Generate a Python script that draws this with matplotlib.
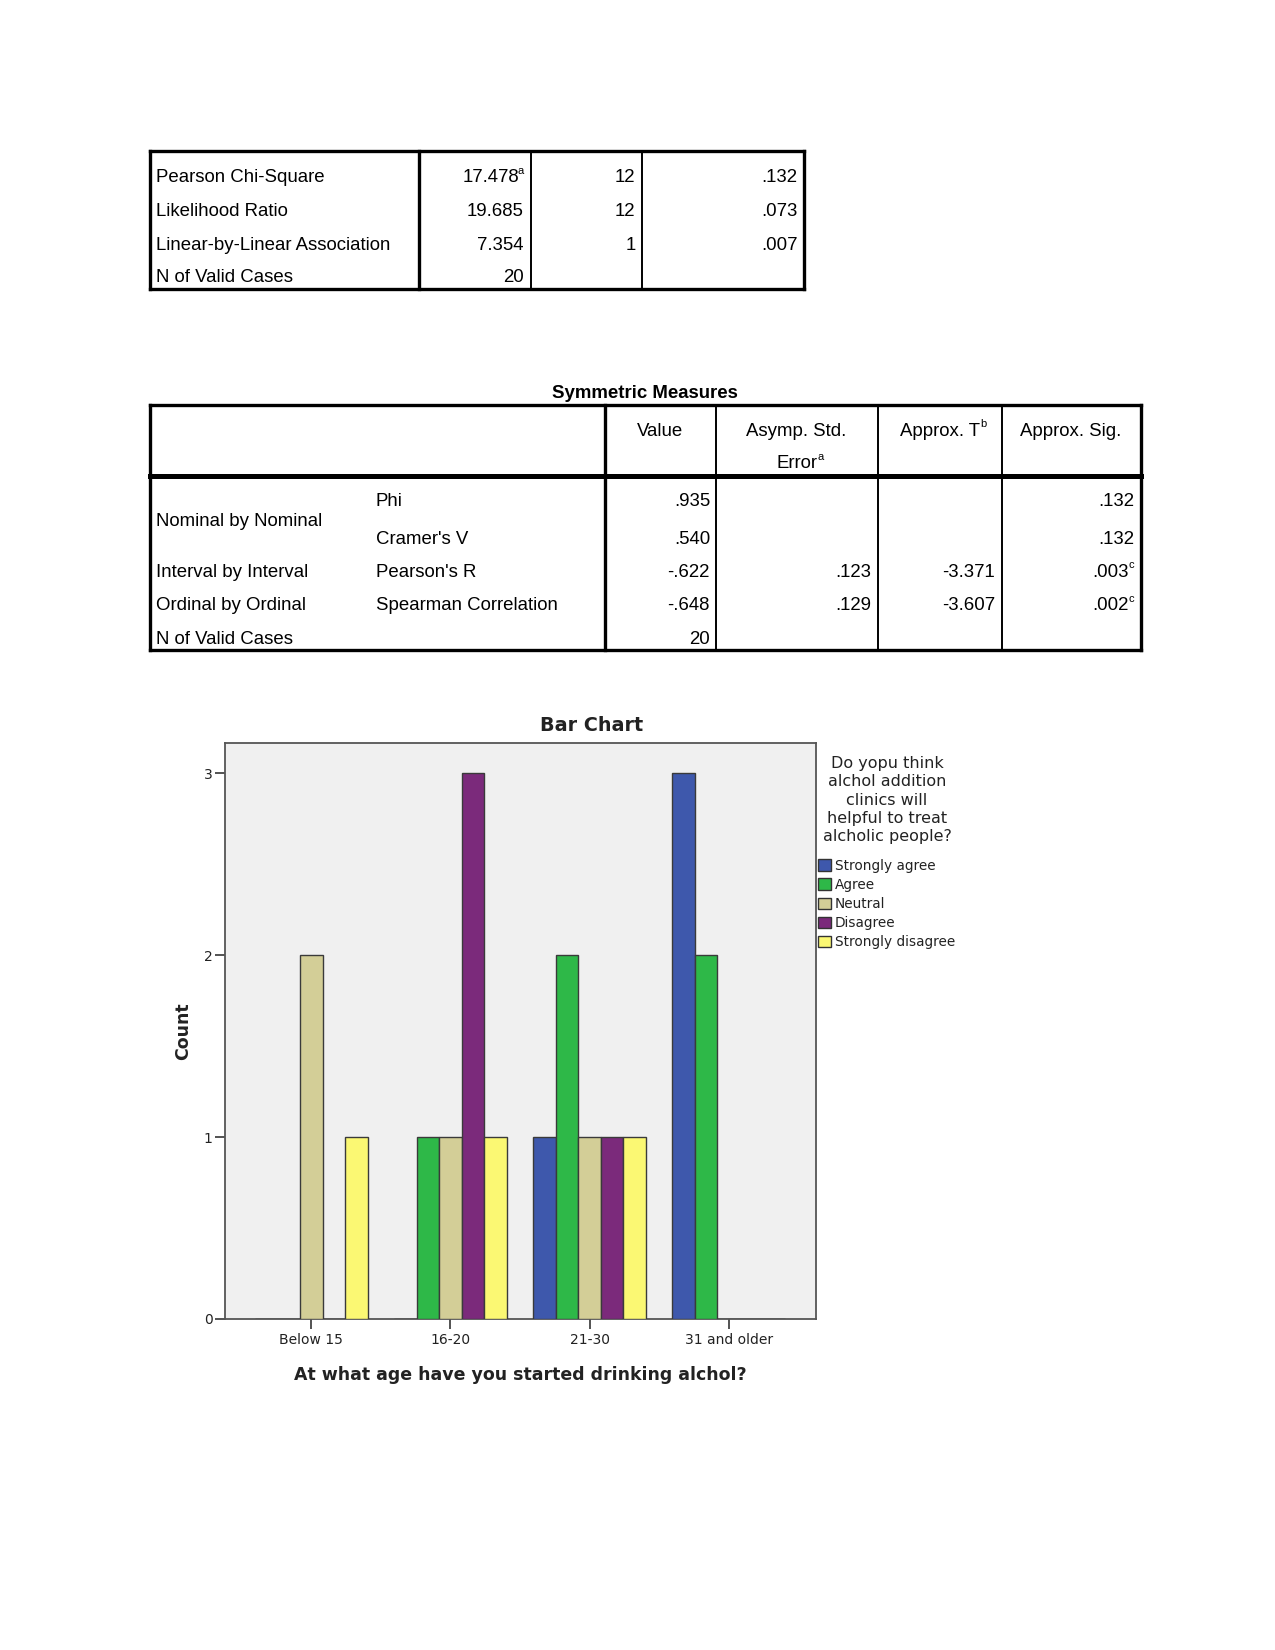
import numpy as np
import matplotlib
matplotlib.use("Agg")
import matplotlib.pyplot as plt
from matplotlib.patches import Patch

# ---------------- data ----------------
t1_rows = ["Pearson Chi-Square", "Likelihood Ratio", "Linear-by-Linear Association", "N of Valid Cases"]
t1_value = ["17.478", "19.685", "7.354", "20"]
t1_value_sup = ["a", "", "", ""]
t1_df = ["12", "12", "1", ""]
t1_sig = [".132", ".073", ".007", ""]

t2_title = "Symmetric Measures"
t2_headers = ["Value", "Asymp. Std.\nError", "Approx. T", "Approx. Sig."]
t2_header_sup = ["", "a", "b", ""]
t2_group = ["Nominal by Nominal", "", "Interval by Interval", "Ordinal by Ordinal", "N of Valid Cases"]
t2_measure = ["Phi", "Cramer's V", "Pearson's R", "Spearman Correlation", ""]
t2_value = [".935", ".540", "-.622", "-.648", "20"]
t2_ase = ["", "", ".123", ".129", ""]
t2_t = ["", "", "-3.371", "-3.607", ""]
t2_sig = [".132", ".132", ".003", ".002", ""]
t2_sig_sup = ["", "", "c", "c", ""]

categories = ["Below 15", "16-20", "21-30", "31 and older"]
series_names = ["Strongly agree", "Agree", "Neutral", "Disagree", "Strongly disagree"]
strongly_agree = [0, 0, 1, 3]
agree = [0, 1, 2, 2]
neutral = [2, 1, 1, 0]
disagree = [0, 3, 1, 0]
strongly_disagree = [1, 1, 1, 0]
series_values = [strongly_agree, agree, neutral, disagree, strongly_disagree]
series_colors = ["#3E58AC", "#2EB848", "#D3CE97", "#7B2A7B", "#FBF873"]
legend_title = "Do yopu think\nalchol addition\nclinics will\nhelpful to treat\nalcholic people?"

# ---------------- figure ----------------
fig = plt.figure(figsize=(12.75, 16.5), dpi=100)
ov = fig.add_axes([0, 0, 1, 1])
ov.set_xlim(0, 1275)
ov.set_ylim(1650, 0)
ov.axis("off")

TF = "Liberation Sans"
FS = 13.4
SUPFS = 8


def txt(x, y, s, ha="left", sup="", **kw):
    if sup:
        ov.text(x, y - 7, sup, ha="right" if ha == "right" else "left", va="center",
                fontsize=SUPFS, family=TF)
        if ha == "right":
            x = x - 5
    ov.text(x, y, s, ha=ha, va="center", fontsize=kw.pop("fontsize", FS), family=TF, **kw)


def line(x0, y0, x1, y1, lw):
    ov.plot([x0, x1], [y0, y1], color="black", lw=lw, solid_capstyle="projecting")


# Table 1
L, R, T, B = 149.5, 803.5, 151, 289
line(L, T, R, T, 2.4)
line(L, B, R, B, 2.4)
line(L, T, L, B, 2.4)
line(R, T, R, B, 2.4)
line(419, T, 419, B, 2.4)
line(531, T, 531, B, 1.4)
line(642, T, 642, B, 1.4)
ys1 = [178, 211.5, 245, 278]
for i, y in enumerate(ys1):
    txt(156, y, t1_rows[i])
    txt(524, y, t1_value[i], ha="right", sup=t1_value_sup[i])
    txt(635.5, y, t1_df[i], ha="right")
    txt(797.5, y, t1_sig[i], ha="right")

# Table 2
ov.text(645, 393.5, t2_title, ha="center", va="center", fontsize=FS, family=TF, fontweight="bold")
L, R, T, B = 149.5, 1140.5, 405, 650
line(L, T, R, T, 2.4)
line(L, B, R, B, 2.4)
line(L, T, L, B, 2.4)
line(R, T, R, B, 2.4)
line(L, 475.5, R, 475.5, 3.6)
line(605, T, 605, B, 2.4)
line(715.5, T, 715.5, B, 1.4)
line(877.5, T, 877.5, B, 1.4)
line(1001.5, T, 1001.5, B, 1.4)
hx = [660, 796.5, 939.5, 1071]
fig.canvas.draw()
for i, h in enumerate(t2_headers):
    parts = h.split("\n")
    for j, p in enumerate(parts):
        y = 431 + j * 33
        s = t2_header_sup[i] if j == len(parts) - 1 else ""
        t = ov.text(hx[i], y, p, ha="center", va="center", fontsize=FS, family=TF)
        if s:
            bb = t.get_window_extent(renderer=fig.canvas.get_renderer())
            ov.text(hx[i] + bb.width / 2 + 0.5, y - 7, s, ha="left", va="center",
                    fontsize=SUPFS, family=TF)

ys2 = [502, 540, 572.5, 606, 639.5]
for i, y in enumerate(ys2):
    if t2_group[i]:
        gy = (ys2[0] + ys2[1]) / 2 if i == 0 else y
        txt(156.5, gy, t2_group[i])
    txt(375.5, y, t2_measure[i])
    txt(710, y, t2_value[i], ha="right")
    txt(871, y, t2_ase[i], ha="right")
    txt(995, y, t2_t[i], ha="right")
    txt(1134, y, t2_sig[i], ha="right", sup=t2_sig_sup[i])

# ---------------- bar chart ----------------
ax = fig.add_axes([225 / 1275, 1 - 1319 / 1650, 591 / 1275, 576.5 / 1650])
ax.set_facecolor("#F0F0F0")
x = np.arange(len(categories))
w = 0.162
for k, (vals, col) in enumerate(zip(series_values, series_colors)):
    ax.bar(x + (k - 2) * w, vals, w, color=col, edgecolor="#3a3a3a", linewidth=1.0, zorder=3)
ax.set_xlim(-0.62, 3.628)
ax.set_ylim(0, 3.168)
ax.set_yticks([0, 1, 2, 3])
ax.set_xticks(x, categories)
for s in ax.spines.values():
    s.set_color("#555555")
    s.set_linewidth(1.3)
ax.tick_params(axis="both", direction="out", length=7, width=1.3, color="#444444",
               labelsize=10, labelcolor="#222222")
ax.tick_params(axis="y", pad=2)
ax.tick_params(axis="x", pad=3)
fig.text(592 / 1275, 1 - 726 / 1650, "Bar Chart", ha="center", va="center",
         fontsize=13.8, fontweight="bold", color="#222222")
ax.set_xlabel("At what age have you started drinking alchol?", fontsize=12.5,
              fontweight="bold", color="#222222", labelpad=13.5)
ax.set_ylabel("Count", fontsize=12.5, fontweight="bold", color="#222222", labelpad=8.5)

# legend title drawn as centred text block
fig.text(887 / 1275, 1 - 756 / 1650, legend_title, ha="center", va="top",
         multialignment="center", fontsize=11.5, linespacing=1.28, color="#222222")

handles = [Patch(facecolor=c, edgecolor="#333333", linewidth=1.0) for c in series_colors]
leg = fig.legend(handles, series_names, loc="upper left",
                 bbox_to_anchor=(818 / 1275, 1 - 859 / 1650), frameon=False,
                 fontsize=9.8, handlelength=0.95, handleheight=0.95,
                 handletextpad=0.3, labelspacing=0.37, borderpad=0, borderaxespad=0)
for t in leg.get_texts():
    t.set_color("#222222")

fig.savefig("out.png", dpi=100)
